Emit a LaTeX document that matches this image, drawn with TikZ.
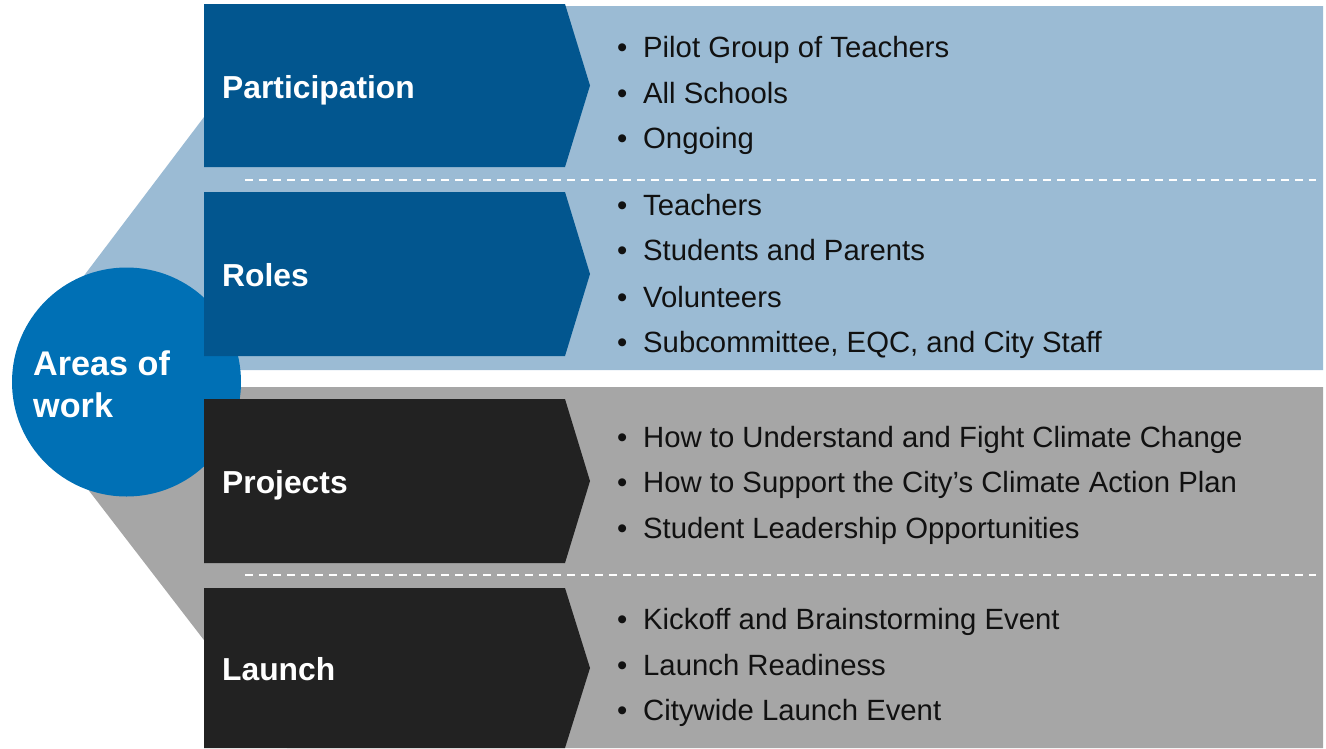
\documentclass[tikz,border=0pt]{standalone}
\usepackage{fontspec}
\setmainfont{Liberation Sans}
\definecolor{bandblue}{HTML}{9BBBD4}
\definecolor{chevblue}{HTML}{02568F}
\definecolor{circblue}{HTML}{0070B5}
\definecolor{bandgray}{HTML}{A6A6A6}
\definecolor{chevdark}{HTML}{222222}
\definecolor{itemtext}{HTML}{111111}
\begin{document}
\begin{tikzpicture}[x=1pt,y=-1pt,
  header/.style={anchor=base west, inner sep=0pt, text=white,
    font=\fontsize{31.8}{31.8}\selectfont\bfseries},
  circtext/.style={anchor=base west, inner sep=0pt, text=white,
    font=\fontsize{34.2}{34.2}\selectfont\bfseries},
  item/.style={anchor=base west, inner sep=0pt, text=itemtext,
    font=\fontsize{29.3}{29.3}\selectfont},
  divider/.style={white, line width=2pt, dash pattern=on 8pt off 6pt}]
\useasboundingbox (0,0) rectangle (1326,748);

% background bands with their fans towards the circle
\fill[bandblue] (50,320.6) -- (288,6) -- (1323,6) -- (1323,370) -- (126,370) -- cycle;
\fill[bandgray] (60,453) -- (126,387) -- (1323,387) -- (1323,748) -- (287,748) -- cycle;

% dashed separators
\coordinate (d1a) at (245,180); \coordinate (d1b) at (1316,180);
\coordinate (d2a) at (245,575); \coordinate (d2b) at (1316,575);
\draw[divider] (d1a) -- (d1b);
\draw[divider] (d2a) -- (d2b);

% central circle
\node[circle, fill=circblue, minimum size=229pt, inner sep=0pt] (areas) at (126.5,382) {};
\node[circtext] (areas1) at (33,375.5) {Areas of};
\node[circtext] (areas2) at (33,417.8) {work};

% chevrons
\fill[chevblue] (204,4)   -- (565,4)   -- (590,85.5) -- (565,167) -- (204,167) -- cycle;
\fill[chevblue] (204,192) -- (565,192) -- (590,274)  -- (565,356) -- (204,356) -- cycle;
\fill[chevdark] (204,399) -- (565,399) -- (590,481)  -- (565,563) -- (204,563) -- cycle;
\fill[chevdark] (204,588) -- (565,588) -- (590,668)  -- (565,748) -- (204,748) -- cycle;

\node[header] (participation) at (222,98)    {Participation};
\node[header] (roles)         at (222,286.5) {Roles};
\node[header] (projects)      at (222,493.5) {Projects};
\node[header] (launch)        at (222,680.5) {Launch};

% bullet lists
\newcommand{\bul}{\makebox[26pt][l]{•}}
\node[item] (p1) at (617,57.5)  {\bul Pilot Group of Teachers};
\node[item] (p2) at (617,103.3) {\bul All Schools};
\node[item] (p3) at (617,148.7) {\bul Ongoing};

\node[item] (r1) at (617,215.1) {\bul Teachers};
\node[item] (r2) at (617,260.9) {\bul Students and Parents};
\node[item] (r3) at (617,307.0) {\bul Volunteers};
\node[item] (r4) at (617,352.5) {\bul Subcommittee, EQC, and City Staff};

\node[item] (j1) at (617,447.3) {\bul How to Understand and Fight Climate Change};
\node[item] (j2) at (617,492.8) {\bul How to Support the City’s Climate Action Plan};
\node[item] (j3) at (617,538.5) {\bul Student Leadership Opportunities};

\node[item] (l1) at (617,629.5) {\bul Kickoff and Brainstorming Event};
\node[item] (l2) at (617,675.3) {\bul Launch Readiness};
\node[item] (l3) at (617,720.7) {\bul Citywide Launch Event};
\end{tikzpicture}
\end{document}
